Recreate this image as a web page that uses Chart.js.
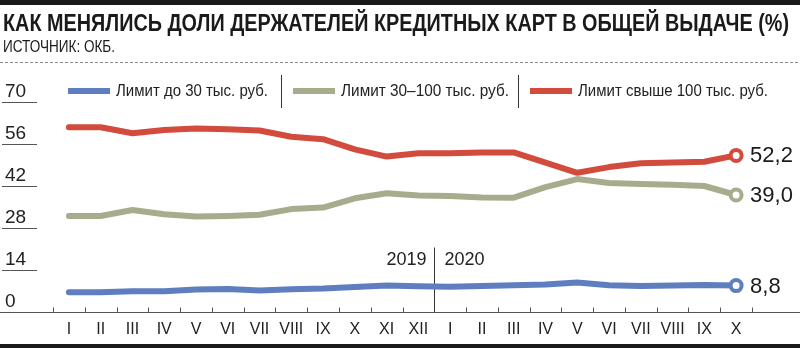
<!DOCTYPE html>
<html><head><meta charset="utf-8">
<script src="https://cdn.jsdelivr.net/npm/chart.js@4.4.0/dist/chart.umd.min.js"></script>
<style>html,body{margin:0;padding:0;background:#fff}#wrap{width:800px;height:348px;position:relative}</style>
</head><body><div id="wrap"><canvas id="c" width="800" height="348"></canvas></div>
<script>
// ---- data ----
const months = ["I","II","III","IV","V","VI","VII","VIII","IX","X","XI","XII",
                "I","II","III","IV","V","VI","VII","VIII","IX","X"];
const years = ["2019","2020"];
const seriesNames = ["Лимит до 30 тыс. руб.","Лимит 30–100 тыс. руб.","Лимит свыше 100 тыс. руб."];
const lowLimit  = [6.6,6.6,6.9,6.9,7.5,7.7,7.2,7.6,7.8,8.3,8.8,8.6,8.4,8.7,8.9,9.2,9.8,8.9,8.7,8.8,9.0,8.8];
const midLimit  = [32.0,32.0,34.0,32.6,31.8,32.0,32.4,34.3,34.8,37.9,39.6,38.8,38.7,38.2,38.1,41.6,44.3,43.0,42.7,42.4,42.0,39.0];
const highLimit = [61.6,61.6,59.6,60.7,61.2,60.9,60.5,58.4,57.6,54.2,51.8,52.9,52.9,53.2,53.2,49.8,46.4,48.3,49.6,49.8,50.1,52.2];
const endLabels = ["8,8","39,0","52,2"];
const yTicks = [0,14,28,42,56,70];
const title = "КАК МЕНЯЛИСЬ ДОЛИ ДЕРЖАТЕЛЕЙ КРЕДИТНЫХ КАРТ В ОБЩЕЙ ВЫДАЧЕ (%)";
const source = "ИСТОЧНИК: ОКБ.";

const colors = ["#5e7ebf","#a9ab8d","#d24b3c"];
const NARROW = '"Liberation Sans Narrow","Arial Narrow","Liberation Sans",sans-serif';
const SANS = '"Liberation Sans",Arial,sans-serif';

const last = months.length - 1;
function ds(label, data, color){
  return {
    label, data, borderColor: color, borderWidth: 6, tension: 0,
    borderCapStyle: 'round', borderJoinStyle: 'round', clip: false,
    pointRadius: c => c.dataIndex === last ? 5.5 : 0,
    pointHoverRadius: c => c.dataIndex === last ? 5.5 : 0,
    pointBackgroundColor: '#fff', pointBorderColor: color, pointBorderWidth: 4
  };
}

const deco = {
  id: 'deco',
  beforeDatasetsDraw(chart){
    const {ctx, scales:{x, y}} = chart;
    const W = chart.width;
    ctx.save();
    // top bar
    ctx.fillStyle = '#1a1a1a';
    ctx.fillRect(0, 0, W, 5);
    // title
    ctx.fillStyle = '#1a1a1a';
    ctx.textBaseline = 'alphabetic';
    ctx.font = 'bold 24px ' + NARROW;
    ctx.fillText(title, 3, 31, 786);
    ctx.font = '16px ' + NARROW;
    ctx.fillText(source, 3, 52, 112);
    // dashed rule
    ctx.strokeStyle = '#8a8a8a'; ctx.lineWidth = 1; ctx.setLineDash([3,2]);
    ctx.beginPath(); ctx.moveTo(0, 62.5); ctx.lineTo(W, 62.5); ctx.stroke();
    ctx.setLineDash([]);
    // y ticks (labels above short underline)
    ctx.font = '19px ' + NARROW;
    ctx.fillStyle = '#222';
    ctx.strokeStyle = '#555';
    yTicks.forEach(v => {
      const py = Math.round(y.getPixelForValue(v));
      ctx.fillText(String(v), 5, py - 5);
      if (v !== 0){
        ctx.beginPath(); ctx.moveTo(2, py + 0.5); ctx.lineTo(37, py + 0.5); ctx.stroke();
      }
    });
    // x axis line
    const base = Math.round(y.getPixelForValue(0)) + 0.5;
    ctx.strokeStyle = '#555';
    ctx.beginPath(); ctx.moveTo(0, base); ctx.lineTo(W, base); ctx.stroke();
    // ticks at category boundaries
    const step = x.getPixelForValue(1) - x.getPixelForValue(0);
    for (let i = 0; i <= months.length; i++){
      const px = Math.round(x.getPixelForValue(i) - step/2) + 0.5;
      ctx.beginPath(); ctx.moveTo(px, base); ctx.lineTo(px, base - 5); ctx.stroke();
    }
    // month labels
    ctx.font = '16px ' + NARROW;
    ctx.textAlign = 'center';
    ctx.fillStyle = '#222';
    months.forEach((m, i) => ctx.fillText(m, x.getPixelForValue(i), base + 21));
    // year divider
    const dx = Math.round(x.getPixelForValue(12) - step/2) + 0.5;
    ctx.strokeStyle = '#333';
    ctx.beginPath(); ctx.moveTo(dx, base - 65); ctx.lineTo(dx, base); ctx.stroke();
    ctx.font = '18px ' + NARROW;
    ctx.textAlign = 'right';
    ctx.fillText(years[0], dx - 8, base - 48);
    ctx.textAlign = 'left';
    ctx.fillText(years[1], dx + 10, base - 48);
    // bottom bar
    ctx.fillStyle = '#1a1a1a';
    ctx.fillRect(0, 344, W, 4);
    // legend
    const lx = [68, 293, 530];
    const lw = [152, 168, 190];
    const ly = 91;
    ctx.font = '17px ' + NARROW;
    ctx.textBaseline = 'middle';
    ctx.textAlign = 'left';
    chart.data.datasets.forEach((d, i) => {
      ctx.fillStyle = d.borderColor;
      ctx.fillRect(lx[i], ly - 3, 42, 6);
      ctx.fillStyle = '#222';
      ctx.fillText(d.label, lx[i] + 48, ly, lw[i]);
    });
    ctx.strokeStyle = '#333';
    [281.5, 518.5].forEach(sx => {
      ctx.beginPath(); ctx.moveTo(sx, 75); ctx.lineTo(sx, 108); ctx.stroke();
    });
    ctx.restore();
  },
  afterDatasetsDraw(chart){
    const {ctx} = chart;
    ctx.save();
    ctx.font = '22px ' + SANS;
    ctx.fillStyle = '#1a1a1a';
    ctx.textBaseline = 'middle';
    ctx.textAlign = 'left';
    chart.data.datasets.forEach((d, i) => {
      const p = chart.getDatasetMeta(i).data[last];
      ctx.fillText(endLabels[i], p.x + 14, p.y + 1);
    });
    ctx.restore();
  }
};

new Chart(document.getElementById('c'), {
  type: 'line',
  data: {
    labels: months,
    datasets: [
      ds(seriesNames[0], lowLimit, colors[0]),
      ds(seriesNames[1], midLimit, colors[1]),
      ds(seriesNames[2], highLimit, colors[2])
    ]
  },
  options: {
    responsive: false, animation: false, devicePixelRatio: 1,
    layout: { padding: { left: 53, right: 48, top: 102, bottom: 36 } },
    scales: {
      x: { type: 'category', display: false, offset: true },
      y: { display: false, min: 0, max: 70 }
    },
    plugins: { legend: { display: false }, tooltip: { enabled: false } },
    events: []
  },
  plugins: [deco]
});
</script></body></html>
